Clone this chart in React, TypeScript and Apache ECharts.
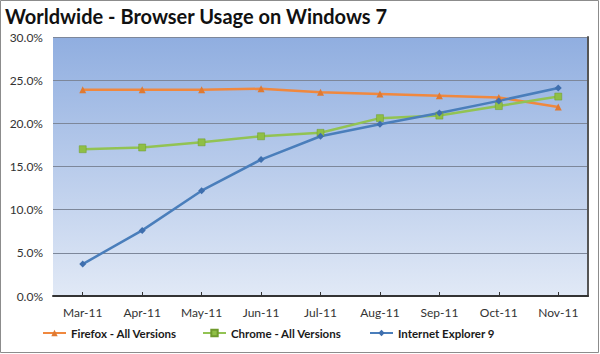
import React, { useEffect, useRef } from "react";
import * as echarts from "echarts";

const categories = ["Mar-11", "Apr-11", "May-11", "Jun-11", "Jul-11", "Aug-11", "Sep-11", "Oct-11", "Nov-11"];
const firefox = [23.9, 23.9, 23.9, 24.0, 23.6, 23.4, 23.2, 23.0, 21.9];
const chrome = [17.0, 17.2, 17.8, 18.5, 18.9, 20.6, 20.9, 22.0, 23.1];
const ie9 = [3.7, 7.6, 12.2, 15.8, 18.5, 19.9, 21.2, 22.6, 24.1];
const seriesNames = ["Firefox - All Versions", "Chrome - All Versions", "Internet Explorer 9"];
const yTicks = { min: 0, max: 30, interval: 5 };

const FONT = "Lato, 'Open Sans', sans-serif";

export default function App() {
  const ref = useRef<HTMLDivElement>(null);
  useEffect(() => {
    if (!ref.current) return;
    const chart = echarts.init(ref.current, null, { renderer: "svg" });
    const legendBase = {
      top: 327,
      itemWidth: 23,
      itemHeight: 8,
      padding: 0,
      textStyle: { fontFamily: FONT, fontSize: 11.5, fontWeight: "bold" as const, color: "#1a1a1a" },
      selectedMode: false,
    };
    chart.setOption({
      animation: false,
      backgroundColor: "#ffffff",
      title: {
        text: "Worldwide - Browser Usage on Windows 7",
        left: 5,
        top: 5,
        padding: 0,
        textStyle: { fontFamily: FONT, fontSize: 20, lineHeight: 22, fontWeight: "bold", color: "#111" },
      },
      graphic: [
        {
          type: "rect",
          shape: { x: 0.5, y: 0.5, width: 598, height: 352 },
          style: { fill: "none", stroke: "#8c8c8c", lineWidth: 1 },
          silent: true,
        },
      ],
      legend: [
        { ...legendBase, left: 42, data: [seriesNames[0]] },
        { ...legendBase, left: 202, data: [seriesNames[1]] },
        { ...legendBase, left: 369, data: [seriesNames[2]] },
      ],
      grid: {
        left: 53,
        right: 12,
        top: 37,
        bottom: 58,
        show: true,
        borderWidth: 0,
        backgroundColor: new echarts.graphic.LinearGradient(0, 0, 0, 1, [
          { offset: 0, color: "#90aee0" },
          { offset: 1, color: "#e1e9f6" },
        ]),
      },
      xAxis: {
        type: "category",
        data: categories,
        boundaryGap: true,
        axisLine: { show: true, lineStyle: { color: "#333", width: 2 } },
        axisTick: { show: true, alignWithLabel: true, inside: true, length: 4, lineStyle: { color: "#333" } },
        axisLabel: { fontFamily: FONT, fontSize: 12, color: "#333", margin: 10 },
        splitLine: { show: false },
      },
      yAxis: [
        {
          type: "value",
          min: yTicks.min,
          max: yTicks.max,
          interval: yTicks.interval,
          axisLine: { show: false },
          axisTick: { show: false },
          axisLabel: {
            fontFamily: FONT,
            fontSize: 12,
            color: "#333",
            margin: 10,
            formatter: (v: number) => v.toFixed(1) + "%",
          },
          splitLine: { show: true, lineStyle: { color: "#7d879a", width: 1 } },
        },
        {
          type: "value",
          position: "right",
          min: yTicks.min,
          max: yTicks.max,
          interval: yTicks.interval,
          axisLine: { show: true, lineStyle: { color: "#555", width: 2 } },
          axisTick: { show: false },
          axisLabel: { show: false },
          splitLine: { show: false },
        },
      ],
      series: [
        {
          name: seriesNames[0],
          type: "line",
          data: firefox,
          symbol: "triangle",
          symbolSize: 7,
          lineStyle: { color: "#f0883e", width: 2.5 },
          itemStyle: { color: "#e07a32" },
        },
        {
          name: seriesNames[1],
          type: "line",
          data: chrome,
          symbol: "rect",
          symbolSize: 7,
          lineStyle: { color: "#92c353", width: 2.5 },
          itemStyle: { color: "#8fbf45", borderColor: "#6f9a2c", borderWidth: 0.5 },
        },
        {
          name: seriesNames[2],
          type: "line",
          data: ie9,
          symbol: "diamond",
          symbolSize: 7,
          lineStyle: { color: "#4a7ebb", width: 2.5 },
          itemStyle: { color: "#3f6fae" },
        },
      ],
    });
    return () => chart.dispose();
  }, []);
  return (
    <div
      ref={ref}
      style={{ position: "fixed", left: 0, top: 0, width: 600, height: 354 }}
    />
  );
}
